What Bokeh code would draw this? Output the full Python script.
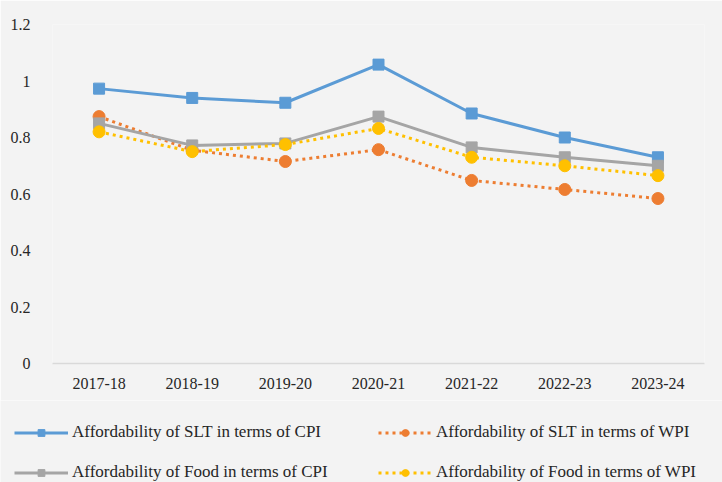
from bokeh.plotting import figure
from bokeh.models import Legend, LegendItem, Range1d, FixedTicker
from bokeh.layouts import column, row
from bokeh.embed import file_html
from bokeh.resources import INLINE

years = ["2017-18", "2018-19", "2019-20", "2020-21", "2021-22", "2022-23", "2023-24"]
slt_cpi = [0.973, 0.940, 0.923, 1.058, 0.885, 0.800, 0.730]
slt_wpi = [0.874, 0.755, 0.715, 0.757, 0.648, 0.616, 0.584]
food_cpi = [0.850, 0.772, 0.779, 0.874, 0.765, 0.730, 0.700]
food_wpi = [0.820, 0.750, 0.775, 0.832, 0.730, 0.700, 0.665]
y_ticks = [0, 0.2, 0.4, 0.6, 0.8, 1.0, 1.2]

labels = [
    "Affordability of SLT in terms of CPI",
    "Affordability of SLT in terms of WPI",
    "Affordability of Food in terms of CPI",
    "Affordability of Food in terms of WPI",
]

BG = "#f3f3f3"
FONT = "Liberation Serif"

# main chart
p = figure(x_range=years, y_range=Range1d(0, 1.2), width=722, height=400,
           output_backend="svg", toolbar_location=None,
           min_border_left=52, min_border_right=18, min_border_top=24,
           min_border_bottom=37)
p.background_fill_color = BG
p.border_fill_color = BG
p.outline_line_color = None
p.grid.visible = False

p.yaxis.ticker = FixedTicker(ticks=y_ticks)
p.yaxis.axis_line_color = None
p.yaxis.major_tick_line_color = None
p.yaxis.minor_tick_line_color = None
p.yaxis.major_label_standoff = 16
p.yaxis.major_label_overrides = {0: "0", 1: "1"}
p.xaxis.axis_line_color = "#d9d9d9"
p.xaxis.axis_line_width = 1.5
p.xaxis.major_tick_line_color = None
p.xaxis.minor_tick_line_color = None
p.xaxis.major_label_standoff = 8
for ax in (p.xaxis, p.yaxis):
    ax.major_label_text_font = FONT
    ax.major_label_text_font_size = "16px"
    ax.major_label_text_color = "#262626"

series = [
    (slt_cpi, "#5B9BD5", "solid", "square", 11),
    (slt_wpi, "#ED7D31", "3 4", "circle", 12),
    (food_cpi, "#A5A5A5", "solid", "square", 11),
    (food_wpi, "#FFC000", "3 4", "circle", 12),
]
for vals, color, dash, marker, size in series:
    p.line(years, vals, line_color=color, line_width=3, line_dash=dash)
    p.scatter(years, vals, marker=marker, size=size, fill_color=color, line_color=color)

# legend strip (series drawn out of view, used only for legend glyphs)
q = figure(x_range=years, y_range=Range1d(10, 11), width=722, height=82,
           output_backend="svg", toolbar_location=None,
           x_axis_location=None, y_axis_location=None, min_border=0)
q.background_fill_color = BG
q.border_fill_color = BG
q.outline_line_color = None
q.grid.visible = False

items = []
for (vals, color, dash, marker, size), lab in zip(series, labels):
    lr = q.line(years, vals, line_color=color, line_width=3, line_dash=dash)
    sr = q.scatter(years, vals, marker=marker, size=size, fill_color=color, line_color=color)
    items.append(LegendItem(label=lab, renderers=[lr, sr]))

def make_legend(its, loc):
    lg = Legend(items=its, location=loc)
    lg.background_fill_alpha = 0
    lg.border_line_color = None
    lg.label_text_font = FONT
    lg.label_text_font_size = "17px"
    lg.label_text_color = "#262626"
    lg.glyph_width = 54
    lg.glyph_height = 17
    lg.label_height = 17
    lg.label_standoff = 4
    lg.spacing = 20
    lg.padding = 0
    lg.margin = 0
    return lg

q.add_layout(make_legend([items[0], items[2]], (14, 0)), "center")
q.add_layout(make_legend([items[1], items[3]], (378, 0)), "center")

open("out.html", "w").write(file_html(column(p, row(q), spacing=0), INLINE))
